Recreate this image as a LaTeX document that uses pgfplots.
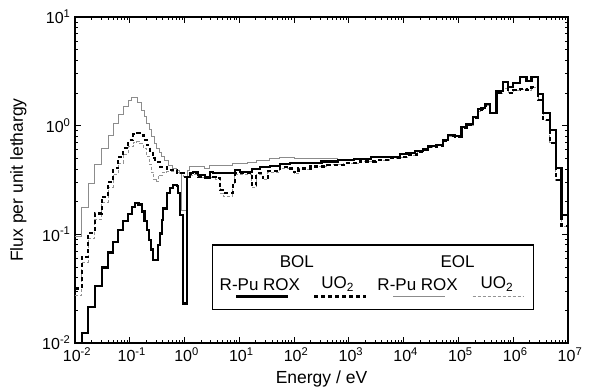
\documentclass[border=0pt]{standalone}
\usepackage{pgfplots}
\pgfplotsset{compat=1.18}
\usepackage{pgfplotstable}
\usepackage{fontspec}
\setmainfont{Liberation Sans}

\pgfplotstableread{
lx ly
-2.000 -2.300
-1.878 -1.907
-1.757 -1.668
-1.635 -1.477
-1.513 -1.305
-1.392 -1.167
-1.301 -1.069
-1.210 -0.961
-1.119 -0.878
-1.027 -0.814
-0.960 -0.745
-0.900 -0.712
-0.840 -0.725
-0.780 -0.790
-0.730 -0.880
-0.690 -0.961
-0.650 -1.050
-0.610 -1.140
-0.575 -1.238
-0.540 -1.238
-0.480 -1.099
-0.449 -0.992
-0.418 -0.869
-0.389 -0.762
-0.327 -0.623
-0.266 -0.577
-0.206 -0.547
-0.144 -0.556
-0.115 -0.623
-0.084 -0.823
-0.035 -1.636
0.049 -0.470
0.099 -0.439
0.159 -0.424
0.250 -0.455
0.372 -0.485
0.463 -0.424
0.524 -0.439
0.706 -0.432
0.920 -0.409
1.011 -0.424
1.225 -0.402
1.376 -0.384
1.558 -0.372
1.741 -0.354
1.923 -0.347
2.200 -0.345
2.500 -0.330
2.800 -0.318
3.100 -0.305
3.400 -0.290
3.750 -0.286
3.930 -0.262
4.050 -0.255
4.200 -0.235
4.360 -0.225
4.450 -0.188
4.600 -0.180
4.721 -0.133
4.813 -0.087
4.934 -0.095
5.056 -0.010
5.148 0.015
5.269 0.082
5.360 0.150
5.420 0.160
5.482 0.199
5.573 0.119
5.695 0.321
5.816 0.404
5.907 0.353
5.998 0.395
6.120 0.445
6.243 0.413
6.334 0.450
6.455 0.291
6.546 0.119
6.668 -0.040
6.777 -0.393
6.880 -0.823
7.000 -0.823
}\bolrox

\pgfplotstableread{
lx ly
-2.000 -1.498
-1.878 -1.207
-1.757 -0.986
-1.635 -0.808
-1.513 -0.655
-1.392 -0.517
-1.301 -0.393
-1.210 -0.286
-1.119 -0.209
-1.027 -0.133
-0.936 -0.080
-0.875 -0.068
-0.814 -0.087
-0.750 -0.133
-0.690 -0.180
-0.631 -0.240
-0.580 -0.300
-0.540 -0.333
-0.449 -0.378
-0.327 -0.409
-0.144 -0.439
-0.020 -0.470
0.049 -0.450
0.099 -0.446
0.159 -0.439
0.250 -0.470
0.570 -0.485
0.650 -0.593
0.706 -0.618
0.880 -0.530
0.920 -0.439
1.225 -0.547
1.310 -0.439
1.430 -0.485
1.520 -0.420
1.741 -0.380
1.900 -0.395
2.000 -0.430
2.080 -0.395
2.300 -0.375
2.600 -0.360
2.900 -0.345
3.200 -0.330
3.500 -0.315
3.750 -0.300
3.930 -0.292
4.100 -0.270
4.250 -0.240
4.360 -0.215
4.450 -0.195
4.600 -0.185
4.721 -0.140
4.813 -0.095
4.934 -0.100
5.056 -0.020
5.148 0.005
5.269 0.070
5.360 0.135
5.420 0.150
5.482 0.185
5.573 0.115
5.695 0.300
5.816 0.343
5.907 0.297
5.998 0.328
6.120 0.334
6.243 0.328
6.334 0.353
6.455 0.236
6.546 0.052
6.668 -0.157
6.777 -0.501
6.880 -0.920
7.000 -0.920
}\boluo

\pgfplotstableread{
lx ly
-2.000 -1.017
-1.878 -0.752
-1.757 -0.531
-1.635 -0.354
-1.513 -0.209
-1.392 -0.087
-1.301 0.021
-1.210 0.107
-1.119 0.174
-1.027 0.236
-0.960 0.262
-0.900 0.255
-0.850 0.215
-0.783 0.144
-0.740 0.080
-0.692 0.021
-0.645 -0.040
-0.600 -0.102
-0.555 -0.160
-0.509 -0.209
-0.460 -0.250
-0.418 -0.286
-0.360 -0.325
-0.297 -0.363
-0.220 -0.390
-0.144 -0.409
-0.084 -0.439
-0.050 -0.780
0.045 -0.410
0.099 -0.378
0.159 -0.378
0.372 -0.390
0.463 -0.363
0.706 -0.370
0.880 -0.347
1.150 -0.335
1.310 -0.317
1.558 -0.301
1.741 -0.290
2.000 -0.300
2.300 -0.300
2.530 -0.305
2.800 -0.312
3.100 -0.300
3.400 -0.287
3.750 -0.283
3.930 -0.260
4.050 -0.253
4.200 -0.233
4.360 -0.223
4.450 -0.186
4.600 -0.178
4.721 -0.131
4.813 -0.085
4.934 -0.093
5.056 -0.008
5.148 0.017
5.269 0.084
5.360 0.152
5.420 0.162
5.482 0.201
5.573 0.121
5.695 0.323
5.816 0.406
5.907 0.355
5.998 0.397
6.120 0.447
6.243 0.415
6.334 0.452
6.455 0.293
6.546 0.121
6.668 -0.038
6.777 -0.391
6.880 -0.821
7.000 -0.821
}\eolrox

\pgfplotstableread{
lx ly
-2.000 -1.560
-1.878 -1.260
-1.757 -1.040
-1.635 -0.860
-1.513 -0.705
-1.392 -0.570
-1.301 -0.450
-1.210 -0.345
-1.119 -0.265
-1.027 -0.195
-0.936 -0.155
-0.875 -0.148
-0.814 -0.165
-0.750 -0.210
-0.692 -0.280
-0.640 -0.360
-0.600 -0.430
-0.560 -0.500
-0.520 -0.517
-0.480 -0.470
-0.449 -0.455
-0.400 -0.430
-0.327 -0.425
-0.144 -0.430
-0.020 -0.470
0.049 -0.455
0.099 -0.456
0.159 -0.449
0.250 -0.480
0.570 -0.500
0.650 -0.620
0.706 -0.650
0.880 -0.545
0.920 -0.449
1.225 -0.570
1.310 -0.449
1.430 -0.500
1.520 -0.430
1.741 -0.390
1.900 -0.405
2.000 -0.440
2.080 -0.400
2.300 -0.377
2.600 -0.362
2.900 -0.347
3.200 -0.332
3.500 -0.317
3.750 -0.302
3.930 -0.294
4.100 -0.272
4.250 -0.242
4.360 -0.217
4.450 -0.197
4.600 -0.187
4.721 -0.142
4.813 -0.097
4.934 -0.102
5.056 -0.022
5.148 0.003
5.269 0.068
5.360 0.133
5.420 0.148
5.482 0.183
5.573 0.113
5.695 0.298
5.816 0.341
5.907 0.295
5.998 0.326
6.120 0.332
6.243 0.326
6.334 0.351
6.455 0.234
6.546 0.050
6.668 -0.159
6.777 -0.503
6.880 -0.925
7.000 -0.925
}\eoluo

\begin{document}
\begin{tikzpicture}
\useasboundingbox (-75pt,-47pt) rectangle (518pt,343pt);
\begin{axis}[
  at={(0,0)}, anchor=south west,
  scale only axis, width=493pt, height=326pt,
  xmode=log, ymode=log,
  xmin=1e-2, xmax=1e7, ymin=1e-2, ymax=10,
  xtick={1e-2,1e-1,1,10,100,1000,1e4,1e5,1e6,1e7},
  xticklabels={10\textsuperscript{-2},10\textsuperscript{-1},10\textsuperscript{0},10\textsuperscript{1},10\textsuperscript{2},10\textsuperscript{3},10\textsuperscript{4},10\textsuperscript{5},10\textsuperscript{6},10\textsuperscript{7}},
  ytick={1e-2,1e-1,1,10},
  yticklabels={10\textsuperscript{-2},10\textsuperscript{-1},10\textsuperscript{0},10\textsuperscript{1}},
  tick label style={font=\fontsize{16}{18}\selectfont},
  xticklabel style={yshift=-1pt, xshift=2pt},
  yticklabel style={xshift=-1pt},
  tick align=inside,
  major tick length=6pt, minor tick length=3pt,
  every tick/.style={black, line width=0.8pt},
  axis line style={line width=1.2pt},
  xlabel={Energy / eV}, ylabel={Flux per unit lethargy},
  label style={font=\fontsize{17.5}{20}\selectfont},
  xlabel style={at={(axis description cs:0.5,0)}, anchor=base, yshift=-40pt},
  ylabel style={at={(axis description cs:-0.0913,0.5)}, anchor=south, rotate=0},
  clip=true,
]
\addplot[const plot, black!42, line width=1pt, dash pattern=on 3pt off 2pt] table[x expr={10^\thisrow{lx}}, y expr={10^\thisrow{ly}}] {\eoluo};
\addplot[const plot, black!45, line width=1pt] table[x expr={10^\thisrow{lx}}, y expr={10^\thisrow{ly}}] {\eolrox};
\addplot[const plot, black, line width=2.2pt, dash pattern=on 4pt off 3pt] table[x expr={10^\thisrow{lx}}, y expr={10^\thisrow{ly}}] {\boluo};
\addplot[const plot, black, line width=2.2pt] table[x expr={10^\thisrow{lx}}, y expr={10^\thisrow{ly}}] {\bolrox};

\draw[line width=1.2pt, fill=white] (axis description cs:0.2793,0.1034) rectangle (axis description cs:0.9296,0.3006);
\node[font=\fontsize{17}{19}\selectfont] at (axis description cs:0.450,0.2485) {BOL};
\node[font=\fontsize{17}{19}\selectfont] at (axis description cs:0.776,0.2485) {EOL};
\node[font=\fontsize{17}{19}\selectfont] at (axis description cs:0.375,0.180) {R-Pu ROX};
\node[font=\fontsize{17}{19}\selectfont] at (axis description cs:0.533,0.180) {UO\textsubscript{2}};
\node[font=\fontsize{17}{19}\selectfont] at (axis description cs:0.695,0.180) {R-Pu ROX};
\node[font=\fontsize{17}{19}\selectfont] at (axis description cs:0.856,0.180) {UO\textsubscript{2}};
\draw[black, line width=2.2pt] (axis description cs:0.3266,0.1426) -- (axis description cs:0.4327,0.1426);
\draw[black, line width=2.2pt, dash pattern=on 4pt off 3pt] (axis description cs:0.4848,0.1426) -- (axis description cs:0.5903,0.1426);
\draw[black!45, line width=1pt] (axis description cs:0.6456,0.1426) -- (axis description cs:0.7505,0.1426);
\draw[black!42, line width=1pt, dash pattern=on 3pt off 2pt] (axis description cs:0.8067,0.1426) -- (axis description cs:0.9093,0.1426);
\end{axis}
\end{tikzpicture}
\end{document}
